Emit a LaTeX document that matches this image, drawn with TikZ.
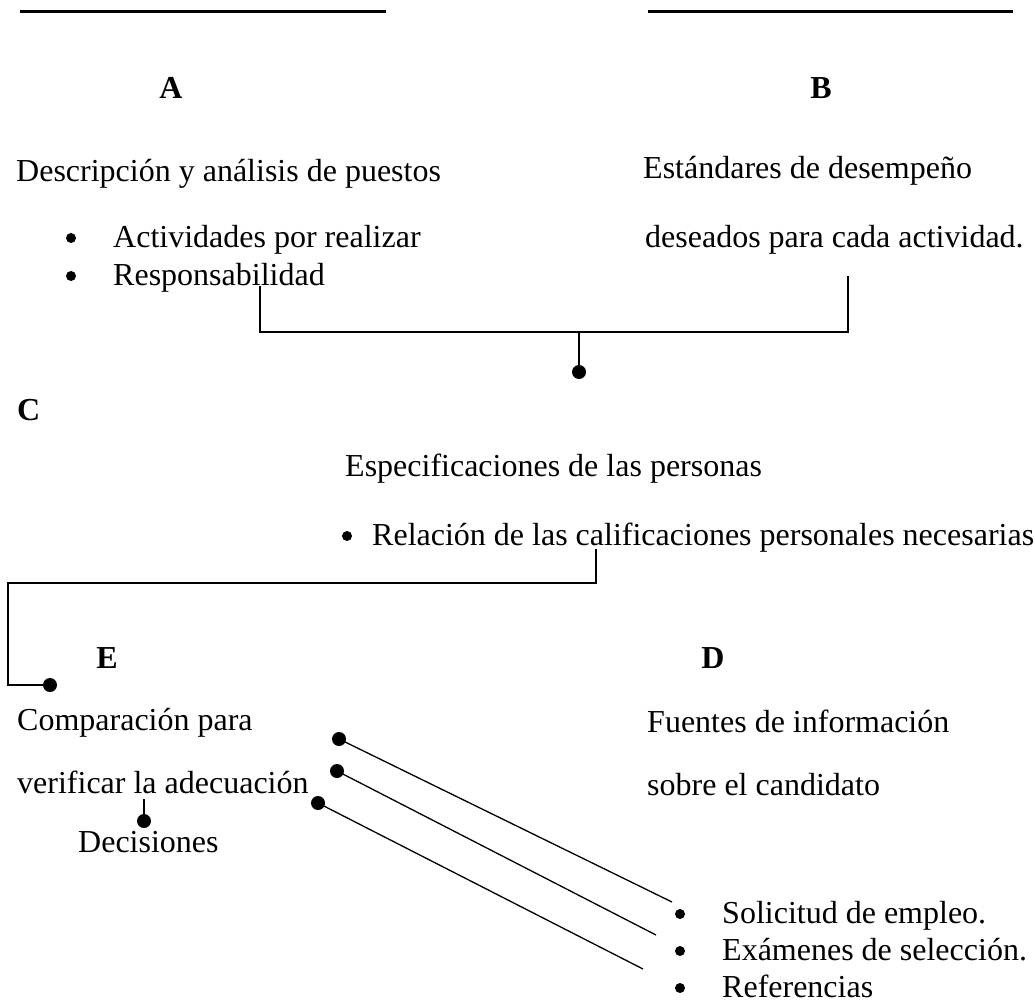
\documentclass[tikz,border=0pt]{standalone}
\usepackage{fontspec}
\setmainfont{Liberation Serif}

\begin{document}
\begin{tikzpicture}[
  x=1pt, y=-1pt,
  font=\fontsize{32}{38}\selectfont,
  txt/.style={anchor=base west, inner sep=0pt},
  lett/.style={anchor=base, inner sep=0pt, font=\fontsize{32}{38}\selectfont\bfseries},
  bul/.style={circle, fill=black, inner sep=0pt, minimum size=10pt},
  dot/.style={circle, fill=black, inner sep=0pt, minimum size=14pt},
  wire/.style={line width=2pt},
  spoke/.style={line width=1.3pt},
]
% Coordinate system: 1pt = 1px of the page, y grows downwards

\useasboundingbox (0,0) rectangle (1035,1006);

% --- Rules at the top ---
\draw[line width=3pt] (20,12) -- (386,12);
\draw[line width=3pt] (648,12) -- (1013,12);

% --- A and B ---
\node[lett] (lA) at (171,99) {A};
\node[lett] (lB) at (821,99) {B};

\node[txt] (desc) at (16,181) {Descripción y análisis de puestos};
\node[bul] (bA1) at (71,238) {};
\node[txt] (act) at (113,247) {Actividades por realizar};
\node[bul] (bA2) at (71,276) {};
\node[txt] (resp) at (113,285) {Responsabilidad};

\node[txt] (est) at (643,178) {Estándares de desempeño};
\node[txt] (des) at (645,247) {deseados para cada actividad.};

% --- Bracket joining A and B ---
\coordinate (jA) at (260,286);
\coordinate (jB) at (848,276);
\coordinate (jL) at (260,332);
\coordinate (jR) at (848,332);
\node[dot] (jC) at (579,372) {};
\draw[wire] (jA) -- (jL) -- (jR) -- (jB);
\draw[wire] (jC.center) -- (jC |- jL);

% --- C ---
\node[lett, anchor=base west] (lC) at (17,420) {C};
\node[txt] (spec) at (345,476) {Especificaciones de las personas};
\node[bul] (bC) at (347,536) {};
\node[txt] (rel) at (372,545) {Relación de las calificaciones personales necesarias};

% --- C to E ---
\coordinate (cR) at (596,549);
\coordinate (cR2) at (596,583);
\coordinate (cL) at (8,583);
\coordinate (cL2) at (8,685);
\node[dot] (eDot) at (50,685) {};
\draw[wire] (cR) -- (cR2) -- (cL) -- (cL2) -- (eDot.center);

% --- E and D ---
\node[lett] (lE) at (107,668) {E};
\node[lett] (lD) at (713,668) {D};

\node[txt] (comp) at (17,730) {Comparación para};
\node[txt] (verif) at (17,793) {verificar la adecuación};
\coordinate (dTop) at (144,799);
\node[dot] (dDot) at (144,821) {};
\draw[wire] (dTop) -- (dDot.center);
\node[txt] (deci) at (78,852) {Decisiones};

\node[txt] (fuen) at (647,732) {Fuentes de información};
\node[txt] (sobre) at (647,795) {sobre el candidato};

% --- Sources ---
\node[bul] (bD1) at (680,914) {};
\node[txt] (sol) at (722,923) {Solicitud de empleo.};
\node[bul] (bD2) at (680,951) {};
\node[txt] (exa) at (722,960) {Exámenes de selección.};
\node[bul] (bD3) at (680,988) {};
\node[txt] (ref) at (722,997) {Referencias};

% --- Spokes from the sources to E ---
\node[dot] (sDot1) at (339,739) {};
\node[dot] (sDot2) at (337,771) {};
\node[dot] (sDot3) at (318,803) {};
\coordinate (sEnd1) at (672,902);
\coordinate (sEnd2) at (656,935);
\coordinate (sEnd3) at (643,969);
\foreach \i in {1,2,3}
  \draw[spoke] (sDot\i.center) -- (sEnd\i);

\end{tikzpicture}
\end{document}
